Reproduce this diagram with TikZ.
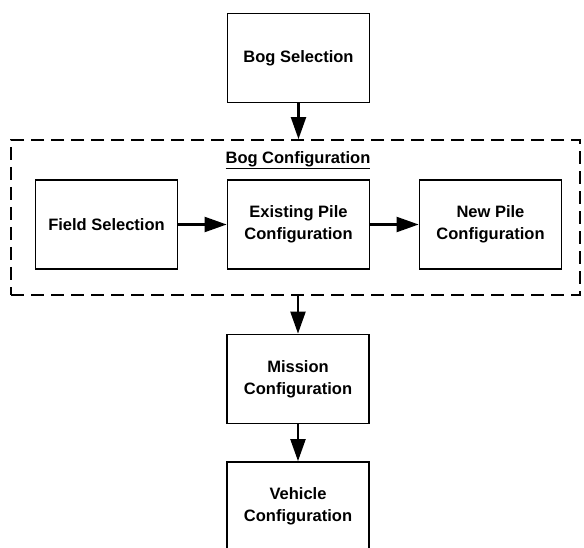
\documentclass[tikz,border=0pt]{standalone}
\usepackage{fontspec}
\setmainfont{Liberation Sans}
\usetikzlibrary{arrows.meta}
\begin{document}
\begin{tikzpicture}[x=1pt,y=-1pt,
  txt/.style={font=\fontsize{16.5}{22}\selectfont\bfseries,align=center},
  blk/.style={draw,line width=1.8pt,minimum width=142pt,minimum height=89pt,txt,inner sep=0pt},
  arr/.style={line width=2.2pt,-{Triangle[length=22pt,width=15pt]}},
  grp/.style={draw,line width=1.8pt,dash pattern=on 13pt off 7pt,minimum width=569pt,minimum height=155pt,inner sep=0pt}]
\useasboundingbox (0,0) rectangle (584,548);
\node[blk] (bog) at (298.5,58) {Bog Selection};
\node[grp] (cfg) at (295.5,217.5) {};
\node[txt] (title) at (298,160) {\underline{Bog Configuration}};
\node[blk] (field) at (106.5,224.5) {Field Selection};
\node[blk] (exist) at (298.5,224.5) {Existing Pile\\Configuration};
\node[blk] (new) at (490.5,224.5) {New Pile\\Configuration};
\node[blk] (mission) at (298,379) {Mission\\Configuration};
\node[blk,minimum height=142pt] (vehicle) at (298,533) {};
\node[txt] (vtext) at (298,506) {Vehicle\\Configuration};
\draw[arr] (bog.south) -- (bog.south |- cfg.north);
\draw[arr] (field.east) -- (exist.west);
\draw[arr] (exist.east) -- (new.west);
\draw[arr] (mission.north |- cfg.south) -- (mission.north);
\draw[arr] (mission.south) -- (vehicle.north);
\end{tikzpicture}
\end{document}
